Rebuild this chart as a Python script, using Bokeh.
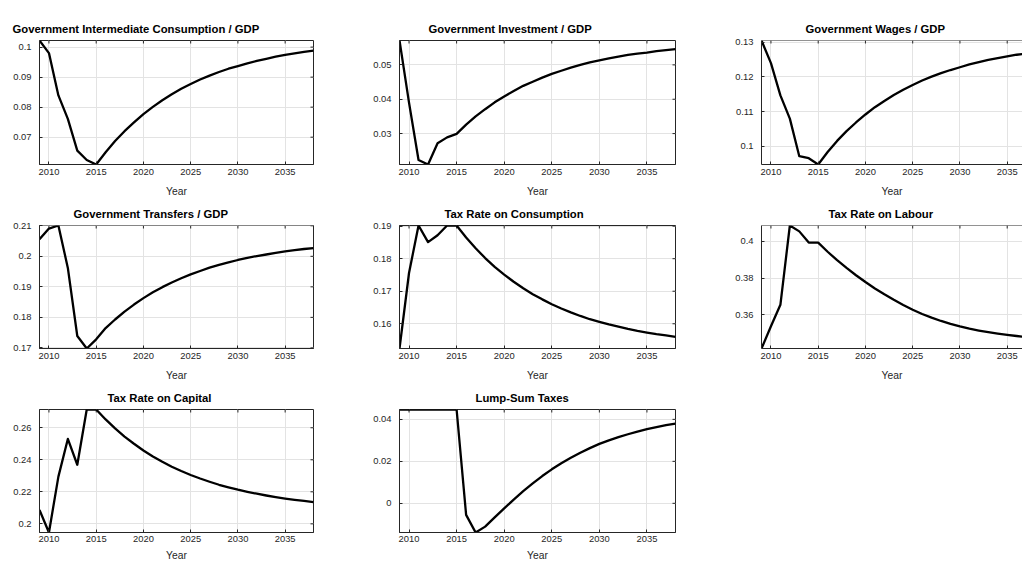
import math
from bokeh.plotting import figure
from bokeh.layouts import column, row
from bokeh.models import Range1d, FixedTicker, CustomJSTickFormatter, ColumnDataSource, Span
from bokeh.embed import file_html
from bokeh.resources import INLINE

# ---------------- data ----------------
years = list(range(2009, 2039))
x_ticks = [2010, 2015, 2020, 2025, 2030, 2035]

titles = [
    "Government Intermediate Consumption / GDP",
    "Government Investment / GDP",
    "Government Wages / GDP",
    "Government Transfers / GDP",
    "Tax Rate on Consumption",
    "Tax Rate on Labour",
    "Tax Rate on Capital",
    "Lump-Sum Taxes",
]

gov_cons = [0.1022, 0.0980, 0.0839, 0.0761, 0.0655, 0.0624, 0.0609, 0.0650, 0.0687, 0.0720,
            0.0749, 0.0777, 0.0801, 0.0823, 0.0843, 0.0861, 0.0877, 0.0892, 0.0905, 0.0917,
            0.0928, 0.0937, 0.0946, 0.0954, 0.0961, 0.0968, 0.0974, 0.0979, 0.0984, 0.0988]
gov_inv = [0.0571, 0.0390, 0.0223, 0.0210, 0.0272, 0.0289, 0.0299, 0.0326, 0.0350, 0.0371,
           0.0391, 0.0408, 0.0424, 0.0439, 0.0451, 0.0463, 0.0474, 0.0483, 0.0492, 0.0500,
           0.0507, 0.0513, 0.0519, 0.0524, 0.0529, 0.0533, 0.0536, 0.0540, 0.0543, 0.0546]
gov_wages = [0.1305, 0.1240, 0.1147, 0.1080, 0.0972, 0.0966, 0.0948, 0.0984, 0.1016, 0.1044,
             0.1069, 0.1092, 0.1113, 0.1131, 0.1148, 0.1163, 0.1177, 0.1190, 0.1201, 0.1211,
             0.1220, 0.1228, 0.1236, 0.1243, 0.1249, 0.1254, 0.1259, 0.1264, 0.1267, 0.1271]
gov_trans = [0.2056, 0.2091, 0.2101, 0.1962, 0.1739, 0.1698, 0.1728, 0.1765, 0.1793, 0.1819,
             0.1842, 0.1863, 0.1882, 0.1899, 0.1914, 0.1928, 0.1941, 0.1952, 0.1963, 0.1972,
             0.1980, 0.1988, 0.1995, 0.2001, 0.2006, 0.2011, 0.2016, 0.2020, 0.2024, 0.2027]
tax_cons = [0.1524, 0.1756, 0.1902, 0.1851, 0.1872, 0.1902, 0.1902, 0.1865, 0.1832, 0.1802,
            0.1775, 0.1751, 0.1729, 0.1709, 0.1691, 0.1675, 0.1660, 0.1647, 0.1635, 0.1624,
            0.1614, 0.1606, 0.1598, 0.1591, 0.1584, 0.1578, 0.1573, 0.1568, 0.1564, 0.1560]
tax_lab = [0.3416, 0.3537, 0.3654, 0.4086, 0.4054, 0.3993, 0.3993, 0.3943, 0.3897, 0.3855,
           0.3815, 0.3778, 0.3743, 0.3711, 0.3681, 0.3653, 0.3627, 0.3604, 0.3584, 0.3566,
           0.3550, 0.3536, 0.3524, 0.3514, 0.3505, 0.3497, 0.3490, 0.3484, 0.3478, 0.3473]
tax_cap = [0.2087, 0.1946, 0.2295, 0.2530, 0.2369, 0.2714, 0.2714, 0.2652, 0.2596, 0.2545,
           0.2500, 0.2458, 0.2421, 0.2388, 0.2357, 0.2330, 0.2305, 0.2283, 0.2263, 0.2244,
           0.2228, 0.2213, 0.2200, 0.2188, 0.2177, 0.2167, 0.2158, 0.2150, 0.2143, 0.2136]
lump_sum = [0.0447, 0.0447, 0.0447, 0.0447, 0.0447, 0.0447, 0.0447, -0.0055, -0.0139, -0.0111,
            -0.0067, -0.0024, 0.0018, 0.0058, 0.0095, 0.0130, 0.0162, 0.0191, 0.0217, 0.0241,
            0.0263, 0.0283, 0.0300, 0.0315, 0.0329, 0.0342, 0.0353, 0.0363, 0.0372, 0.0380]

series = [gov_cons, gov_inv, gov_wages, gov_trans, tax_cons, tax_lab, tax_cap, lump_sum]

y_ticks = [
    [0.07, 0.08, 0.09, 0.1],
    [0.03, 0.04, 0.05],
    [0.1, 0.11, 0.12, 0.13],
    [0.17, 0.18, 0.19, 0.2, 0.21],
    [0.16, 0.17, 0.18, 0.19],
    [0.36, 0.38, 0.4],
    [0.2, 0.22, 0.24, 0.26],
    [0, 0.02, 0.04],
]

# ---------------- layout / style ----------------
FONT = "Liberation Sans"
AX = "#262626"
GRID = "#e3e3e3"

# (canvas width, border left, border right, x end)
col_specs = [(369, 39, 56, 2038.0), (361, 30, 55, 2038.0), (292, 31, 0, 2036.62)]
# (canvas height, border top, border bottom, tick-label standoff, axis-label standoff)
row_specs = [(199, 40, 35, 4, 8), (184, 26, 34, 4, 8), (180, 26, 30, 3, 5)]
# left offset of each title from its frame's left edge (px)
title_offsets = [-27, 29, 44, 34, 45, 67, 68, 76]

fmt = CustomJSTickFormatter(code="return String(Number(tick.toFixed(6)));")


def make_panel(i):
    ci, ri = i % 3, i // 3
    cw, bl, br, xend = col_specs[ci]
    ch, bt, bb, lso, aso = row_specs[ri]
    ys = series[i]
    ylo, yhi = min(ys), max(ys)
    p = figure(width=cw, height=ch, output_backend="svg", toolbar_location=None,
               x_range=Range1d(2009, xend), y_range=Range1d(ylo, yhi),
               min_border_left=bl, min_border_right=br, min_border_top=bt,
               min_border_bottom=bb, title=titles[i])
    p.background_fill_color = "white"
    p.border_fill_color = "white"
    if br > 0:
        p.outline_line_color = AX
        p.outline_line_width = 1
    else:
        p.outline_line_color = None
        p.add_layout(Span(location=yhi, dimension="width", line_color=AX, line_width=1))

    p.title.text_font = FONT
    p.title.text_font_size = "11.3px"
    p.title.text_font_style = "bold"
    p.title.text_color = "black"
    p.title.align = "left"
    p.title.offset = title_offsets[i]
    p.title.standoff = 11

    xax = p.below[0]
    yax = p.left[0]
    xax.ticker = FixedTicker(ticks=x_ticks)
    yax.ticker = FixedTicker(ticks=y_ticks[i])
    yax.formatter = fmt
    xax.axis_label = "Year"
    for ax in (xax, yax):
        ax.axis_line_color = AX
        ax.axis_line_width = 1
        ax.major_tick_line_color = AX
        ax.major_tick_in = 3
        ax.major_tick_out = 0
        ax.minor_tick_in = 0
        ax.minor_tick_out = 0
        ax.major_label_text_font = FONT
        ax.major_label_text_font_size = "9.4px"
        ax.major_label_text_color = AX
        ax.axis_label_text_font = FONT
        ax.axis_label_text_font_size = "10.3px"
        ax.axis_label_text_font_style = "normal"
        ax.axis_label_text_color = AX
    xax.major_label_standoff = lso
    xax.axis_label_standoff = aso
    yax.major_label_standoff = 8

    p.xgrid.grid_line_color = GRID
    p.ygrid.grid_line_color = GRID

    # mirrored inward ticks on the top (and right where visible) edges of the box
    p.ray(x=x_ticks, y=[yhi] * len(x_ticks), length=3, length_units="screen",
          angle=-math.pi / 2, line_color=AX, line_width=1)
    if br > 0:
        p.ray(x=[xend] * len(y_ticks[i]), y=y_ticks[i], length=3, length_units="screen",
              angle=math.pi, line_color=AX, line_width=1)

    src = ColumnDataSource(dict(x=years, y=ys))
    p.line("x", "y", source=src, line_color="black", line_width=2.3, line_join="round")
    return p


figs = [make_panel(i) for i in range(8)]
layout = column(row(*figs[0:3]), row(*figs[3:6]), row(*figs[6:8]))

open("out.html", "w").write(file_html(layout, INLINE))
